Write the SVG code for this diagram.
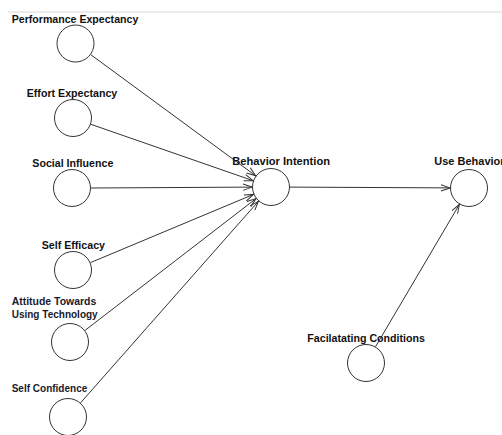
<svg xmlns="http://www.w3.org/2000/svg" width="502" height="435" viewBox="0 0 502 435">
<defs>
<style>
.n{fill:none;stroke:#333;stroke-width:1}
.t{font-family:"Liberation Sans",Arial,sans-serif;font-weight:bold;font-size:11px;fill:#111}
.c{font-family:"Liberation Sans",Arial,sans-serif;font-weight:bold;font-size:11px;fill:#1a1a2e}
.e{fill:none;stroke:#333;stroke-width:1;marker-end:url(#a)}
</style>
<marker id="a" markerUnits="userSpaceOnUse" markerWidth="12" markerHeight="10" refX="0" refY="0" viewBox="-10 -5 12 10" orient="auto" overflow="visible">
<path d="M-9,-3.2 L0,0 L-9,3.2" fill="none" stroke="#333" stroke-width="1"/>
</marker>
</defs>
<rect width="502" height="435" fill="#fff"/>
<line x1="8" y1="12" x2="502" y2="12" stroke="#d8d8d8" stroke-width="1"/>
<g id="connectors">
<line class="e" x1="90.8" y1="54.7" x2="255.7" y2="175.8"/>
<line class="e" x1="90.9" y1="124.3" x2="253.1" y2="180.7"/>
<line class="e" x1="91" y1="188" x2="252" y2="187.1"/>
<line class="e" x1="90.5" y1="262.6" x2="253.5" y2="194.4"/>
<line class="e" x1="85" y1="330.4" x2="256" y2="198.6"/>
<line class="e" x1="80.6" y1="402.8" x2="258.4" y2="201.3"/>
<line class="e" x1="290" y1="187.1" x2="450" y2="187.9"/>
<line class="e" x1="375.6" y1="346.6" x2="459.4" y2="204.4"/>
</g>
<g id="pe"><circle class="n" cx="75.5" cy="43.5" r="18.5"/><text class="t" x="11.7" y="22.5" textLength="126.6" lengthAdjust="spacingAndGlyphs">Performance Expectancy</text></g>
<g id="ee"><circle class="n" cx="73" cy="118" r="18.5"/><text class="t" x="26.7" y="96.7" textLength="90.6" lengthAdjust="spacingAndGlyphs">Effort Expectancy</text></g>
<g id="si"><circle class="n" cx="72" cy="188" r="18.5"/><text class="t" x="32.3" y="166.5" textLength="81" lengthAdjust="spacingAndGlyphs">Social Influence</text></g>
<g id="se"><circle class="n" cx="73" cy="270" r="18.5"/><text class="t" x="41.7" y="249.3" textLength="63.3" lengthAdjust="spacingAndGlyphs">Self Efficacy</text></g>
<g id="at"><circle class="n" cx="70" cy="342" r="18.5"/><text class="c" x="11.7" y="305" textLength="84.5" lengthAdjust="spacingAndGlyphs">Attitude Towards</text><text class="c" x="11.7" y="317.5" textLength="86" lengthAdjust="spacingAndGlyphs">Using Technology</text></g>
<g id="sc"><circle class="n" cx="68" cy="417" r="18.5"/><text class="c" x="11.7" y="392.3" textLength="75.6" lengthAdjust="spacingAndGlyphs">Self Confidence</text></g>
<g id="bi"><circle class="n" cx="271" cy="187" r="18.5"/><text class="t" x="232.3" y="165" textLength="97.7" lengthAdjust="spacingAndGlyphs">Behavior  Intention</text></g>
<g id="ub"><circle class="n" cx="469" cy="188" r="18.5"/><text class="t" x="434.3" y="165">Use Behavior</text></g>
<g id="fc"><circle class="n" cx="366" cy="363" r="18.5"/><text class="t" x="307.3" y="341.7" textLength="117.7" lengthAdjust="spacingAndGlyphs">Facilatating Conditions</text></g>
</svg>
